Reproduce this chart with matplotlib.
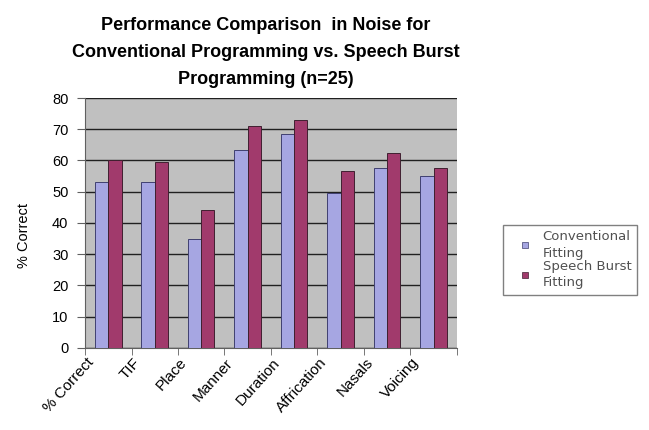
import numpy as np
import matplotlib
matplotlib.use("Agg")
import matplotlib.pyplot as plt
import matplotlib.transforms as mtransforms
from matplotlib.lines import Line2D

plt.rcParams['font.family'] = ['Liberation Sans', 'DejaVu Sans']

categories = ['% Correct', 'TIF', 'Place', 'Manner', 'Duration',
              'Affrication', 'Nasals', 'Voicing']
conventional = [53, 53, 35, 63.5, 68.5, 49.5, 57.5, 55]
speech_burst = [60, 59.5, 44, 71, 73, 56.5, 62.5, 57.5]
series_names = ['Conventional\nFitting', 'Speech Burst\nFitting']
title = ('Performance Comparison  in Noise for\n'
         'Conventional Programming vs. Speech Burst\n'
         'Programming (n=25)')

lavender = '#a6a6e2'
maroon = '#a13a6c'

fig = plt.figure(figsize=(6.49, 4.30), dpi=100)
ax = fig.add_axes([0.131, 0.191, 0.573, 0.581])
ax.set_facecolor('#c0c0c0')

x = np.arange(len(categories)) + 0.5
w = 0.285
ax.bar(x - w / 2, conventional, w, color=lavender, edgecolor='#404070',
       linewidth=0.7, zorder=3)
ax.bar(x + w / 2, speech_burst, w, color=maroon, edgecolor='#402030',
       linewidth=0.7, zorder=3)

ax.set_xlim(0, len(categories))
ax.set_ylim(0, 80)
ax.set_yticks(range(0, 81, 10))
ax.yaxis.grid(True, color='#202020', linewidth=1.0, zorder=1)
ax.set_axisbelow(True)

# category ticks sit between the groups, labels under the groups
ax.set_xticks(x)
ax.set_xticks(np.arange(len(categories) + 1), minor=True)
ax.tick_params(axis='x', which='major', length=0, pad=2)
ax.tick_params(axis='x', which='minor', length=5, color='#606060')
ax.tick_params(axis='y', length=6, color='#606060', labelsize=10.5, pad=6)
ax.set_xticklabels(categories, rotation=48, ha='right',
                   rotation_mode='anchor', fontsize=11)
shift = mtransforms.ScaledTranslation(-22 / 100, -5 / 100, fig.dpi_scale_trans)
for lbl in ax.get_xticklabels():
    lbl.set_transform(lbl.get_transform() + shift)

for side in ['top', 'right']:
    ax.spines[side].set_visible(False)
for side in ['left', 'bottom']:
    ax.spines[side].set_color('#606060')

ax.set_ylabel('% Correct', fontsize=10.5)
ax.yaxis.set_label_coords(-0.145, 0.45)
fig.text(0.41, 0.96, title, ha='center', va='top', fontsize=13,
         fontweight='bold', linespacing=1.75)

handles = [Line2D([], [], ls='none', marker='s', markersize=4.5,
                  markerfacecolor=lavender, markeredgecolor='#404070',
                  markeredgewidth=0.5),
           Line2D([], [], ls='none', marker='s', markersize=4.5,
                  markerfacecolor=maroon, markeredgecolor='#402030',
                  markeredgewidth=0.5)]
leg = fig.legend(handles, series_names, loc='upper left',
                 bbox_to_anchor=(503 / 649, 1 - 225 / 430), borderaxespad=0,
                 prop={'family': 'DejaVu Sans', 'size': 9.5},
                 handlelength=2.6, handletextpad=0.0,
                 borderpad=0.4, labelspacing=0.0, fancybox=False,
                 framealpha=1, edgecolor='#808080')
leg.get_frame().set_linewidth(1.0)
for t in leg.get_texts():
    t.set_color('#505050')
    t.set_linespacing(1.35)

fig.savefig('out.png', dpi=100)
